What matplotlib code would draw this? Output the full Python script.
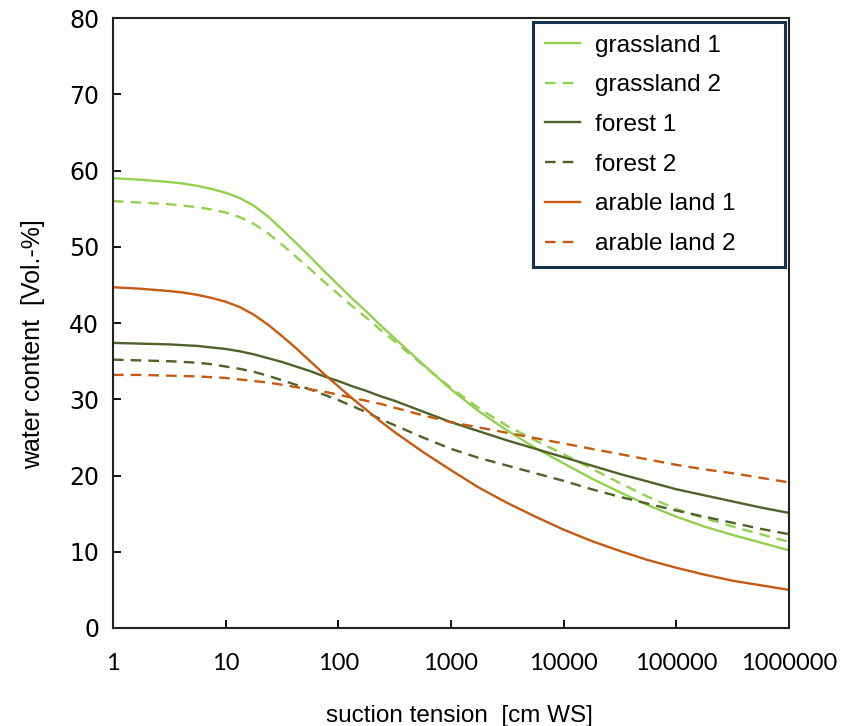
"""Water retention curves for grassland, forest and arable land soils."""

from __future__ import annotations

import matplotlib

matplotlib.use("Agg")
import matplotlib.pyplot as plt
from matplotlib.ticker import NullLocator


OUT_PATH = "out.png"

# suction tension [cm WS]; eighth-decade steps where the curves bend, quarter elsewhere
SUCTION = [
    1, 1.778, 3.162, 4.217, 5.623, 7.499, 10, 13.34, 17.78, 23.71, 31.62,
    42.17, 56.23, 74.99, 100, 133.4, 177.8, 237.1, 316.2, 562.3, 1000, 1778,
    3162, 5623, 10000, 17783, 31623, 56234, 100000, 177828, 316228, 562341,
    1000000,
]

# water content [Vol.-%]
GRASSLAND_1 = [
    59.0, 58.8, 58.5, 58.3, 58.0, 57.6, 57.1, 56.4, 55.4, 54.0, 52.3, 50.5,
    48.7, 46.8, 45.0, 43.2, 41.5, 39.7, 38.0, 34.6, 31.3, 28.4, 25.9, 23.6,
    21.6, 19.6, 17.8, 16.1, 14.6, 13.3, 12.2, 11.2, 10.2,
]
GRASSLAND_2 = [
    56.0, 55.8, 55.6, 55.4, 55.2, 54.9, 54.5, 53.9, 53.0, 51.8, 50.3, 48.7,
    47.1, 45.4, 43.8, 42.2, 40.7, 39.1, 37.6, 34.5, 31.5, 28.8, 26.5, 24.6,
    22.8, 20.9, 19.0, 17.2, 15.6, 14.4, 13.3, 12.3, 11.3,
]
FOREST_1 = [
    37.4, 37.3, 37.2, 37.1, 37.0, 36.8, 36.6, 36.3, 35.9, 35.4, 34.9, 34.3,
    33.7, 33.0, 32.4, 31.7, 31.1, 30.4, 29.8, 28.4, 27.0, 25.8, 24.6, 23.5,
    22.4, 21.3, 20.2, 19.2, 18.2, 17.4, 16.6, 15.8, 15.1,
]
FOREST_2 = [
    35.2, 35.1, 35.0, 34.9, 34.8, 34.6, 34.3, 34.0, 33.6, 33.1, 32.5, 31.9,
    31.3, 30.6, 29.9, 29.1, 28.3, 27.4, 26.6, 25.0, 23.5, 22.3, 21.3, 20.3,
    19.3, 18.2, 17.2, 16.3, 15.4, 14.6, 13.8, 13.0, 12.3,
]
ARABLE_1 = [
    44.7, 44.5, 44.2, 44.0, 43.7, 43.3, 42.8, 42.1, 41.1, 39.8, 38.3, 36.7,
    35.0, 33.3, 31.7, 30.1, 28.6, 27.1, 25.7, 23.1, 20.7, 18.4, 16.4, 14.6,
    12.9, 11.4, 10.1, 8.9, 7.9, 7.0, 6.2, 5.6, 5.0,
]
ARABLE_2 = [
    33.2, 33.2, 33.1, 33.05, 33.0, 32.9, 32.8, 32.6, 32.4, 32.2, 31.9, 31.6,
    31.3, 31.0, 30.6, 30.2, 29.8, 29.4, 28.9, 27.9, 27.0, 26.3, 25.6, 24.9,
    24.2, 23.5, 22.8, 22.1, 21.4, 20.8, 20.3, 19.7, 19.1,
]

X_TICKS = [1, 10, 100, 1000, 10000, 100000, 1000000]
X_TICK_LABELS = ["1", "10", "100", "1000", "10000", "100000", "1000000"]
Y_TICKS = [0, 10, 20, 30, 40, 50, 60, 70, 80]

LIGHT_GREEN = "#92d050"
DARK_GREEN = "#4f6228"
BROWN = "#c55a11"
DASH = (0, (4.5, 3))


def main() -> None:
    """Draw the chart and save it."""
    fig = plt.figure(figsize=(8.59, 7.26), dpi=100)
    ax = fig.add_axes([0.1315, 0.135, 0.787, 0.840])

    series = [
        (GRASSLAND_1, LIGHT_GREEN, "-", "grassland 1"),
        (GRASSLAND_2, LIGHT_GREEN, DASH, "grassland 2"),
        (FOREST_1, DARK_GREEN, "-", "forest 1"),
        (FOREST_2, DARK_GREEN, DASH, "forest 2"),
        (ARABLE_1, BROWN, "-", "arable land 1"),
        (ARABLE_2, BROWN, DASH, "arable land 2"),
    ]
    for values, color, style, label in series:
        ax.plot(SUCTION, values, color=color, linestyle=style, linewidth=1.7, label=label)

    ax.set_xscale("log")
    ax.set_xlim(1, 1000000)
    ax.set_ylim(0, 80)
    ax.set_xticks(X_TICKS)
    ax.set_xticklabels(X_TICK_LABELS)
    ax.xaxis.set_minor_locator(NullLocator())
    ax.set_yticks(Y_TICKS)

    for spine in ax.spines.values():
        spine.set_linewidth(1.5)
        spine.set_color("#222222")

    ax.tick_params(axis="x", direction="in", length=6, width=1.3, pad=18)
    ax.tick_params(axis="y", direction="in", length=6, width=1.3, pad=10)
    for tick in ax.get_xticklabels():
        tick.set_fontfamily(["Lato", "DejaVu Sans"])
        tick.set_fontsize(17)
    for tick in ax.get_yticklabels():
        tick.set_fontfamily(["DejaVu Sans"])
        tick.set_fontsize(17)

    label_font = ["Liberation Sans Narrow", "Liberation Sans", "DejaVu Sans"]
    ax.set_xlabel("suction tension  [cm WS]", fontsize=17.5, family=label_font)
    ax.set_ylabel("water content  [Vol.-%]", fontsize=18, family=label_font)
    ax.xaxis.set_label_coords(0.513, -0.126)
    ax.yaxis.set_label_coords(-0.100, 0.465)

    legend = ax.legend(
        loc="upper left",
        bbox_to_anchor=(0.621, 0.0, 0.373, 0.9934),
        mode="expand",
        prop={"family": ["Liberation Sans", "DejaVu Sans"], "size": 17.6},
        frameon=True,
        fancybox=False,
        framealpha=1,
        edgecolor="#17324d",
        borderaxespad=0.0,
        borderpad=0.5,
        labelspacing=0.72,
        handlelength=1.45,
        handletextpad=0.6,
    )
    legend.get_frame().set_linewidth(2.2)

    fig.savefig(OUT_PATH, dpi=100)
    plt.close(fig)


if __name__ == "__main__":
    main()
